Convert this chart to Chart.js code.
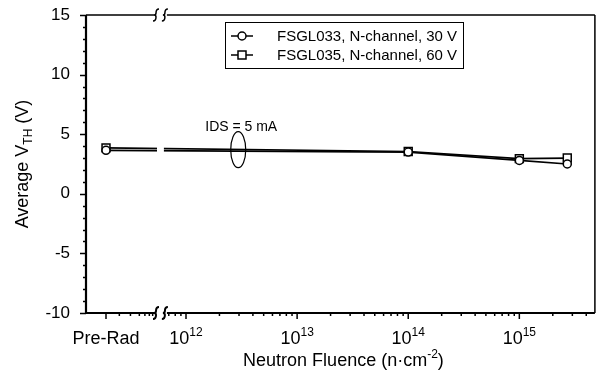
<!DOCTYPE html>
<html>
<head>
<meta charset="utf-8">
<script src="https://cdn.jsdelivr.net/npm/chart.js@4"></script>
<style>
  html, body { margin: 0; padding: 0; background: #fff; }
  #wrap { width: 602px; height: 380px; }
</style>
</head>
<body>
<div id="wrap"><canvas id="myChart"></canvas></div>
<script>
// neutron fluence of each measurement (null = pre-rad)
const fluence = [null, 1e14, 1e15, 2.7e15];
// average threshold voltage (V)
const vthFSGL033 = [3.65, 3.5, 2.8, 2.5];
const vthFSGL035 = [3.85, 3.55, 2.95, 3.0];
const seriesNames = ['FSGL033, N-channel, 30 V', 'FSGL035, N-channel, 60 V'];
// tick labels
const preRadLabel = 'Pre-Rad';
const xDecades = [12, 13, 14, 15];
const yMin = -10, yMax = 15, yStep = 5;
const noteText = 'IDS = 5 mA';

// x axis works in log10 units, pre-rad sits left of the axis break
const PRE_RAD_X = 11.28;
const X_MIN = 11.10, X_MAX = 15.68;
const BREAK_X = [11.73, 11.81];
const PRE_RAD_MINOR = [11.40, 11.50, 11.58, 11.63, 11.67, 11.70];
const FONT = "'Liberation Sans', Arial, Helvetica, sans-serif";

function toPoints(values) {
    return fluence.map((f, i) => ({ x: f === null ? PRE_RAD_X : Math.log10(f), y: values[i] }));
}

// draw one axis break squiggle
function squiggle(ctx, x, y) {
    ctx.beginPath();
    ctx.moveTo(x + 3, y - 6);
    ctx.quadraticCurveTo(x, y - 6, x, y - 2);
    ctx.quadraticCurveTo(x, y, x - 2, y);
    ctx.quadraticCurveTo(x, y, x, y + 2);
    ctx.quadraticCurveTo(x, y + 6, x - 3, y + 6);
    ctx.stroke();
}

function drawMarker(ctx, style, x, y) {
    ctx.beginPath();
    if (style === 'circle') ctx.arc(x, y, 4, 0, Math.PI * 2);
    else ctx.rect(x - 4, y - 4, 8, 8);
    ctx.fillStyle = '#fff';
    ctx.fill();
    ctx.stroke();
}

// frame, breaks, ticks, labels, legend and note
const decorPlugin = {
    id: 'decor',
    afterDatasetsDraw(chart) {
        const { ctx, chartArea: a, scales } = chart;
        const xs = scales.x, ys = scales.y;
        const b0 = xs.getPixelForValue(BREAK_X[0]);
        const b1 = xs.getPixelForValue(BREAK_X[1]);
        ctx.save();
        // cut the data lines at the break
        ctx.fillStyle = '#fff';
        ctx.fillRect(b0 + 1, a.top + 2, b1 - b0 - 2, a.bottom - a.top - 4);

        ctx.strokeStyle = '#000';
        ctx.lineCap = 'butt';
        // left and bottom axis
        ctx.lineWidth = 2.2;
        ctx.beginPath();
        ctx.moveTo(a.left, a.top); ctx.lineTo(a.left, a.bottom + 1);
        ctx.moveTo(a.left - 1, a.bottom); ctx.lineTo(b0 - 2, a.bottom);
        ctx.moveTo(b1 + 2, a.bottom); ctx.lineTo(a.right, a.bottom);
        ctx.stroke();
        // top and right frame
        ctx.lineWidth = 1.5;
        ctx.beginPath();
        ctx.moveTo(a.left, a.top); ctx.lineTo(b0 - 2, a.top);
        ctx.moveTo(b1 + 2, a.top); ctx.lineTo(a.right, a.top);
        ctx.moveTo(a.right, a.top); ctx.lineTo(a.right, a.bottom);
        ctx.stroke();
        // break squiggles
        squiggle(ctx, b0, a.top);
        squiggle(ctx, b1, a.top);
        ctx.lineWidth = 2;
        squiggle(ctx, b0, a.bottom);
        squiggle(ctx, b1, a.bottom);

        // y ticks
        ctx.lineWidth = 1.5;
        ctx.beginPath();
        for (let v = yMin; v <= yMax; v++) {
            const py = Math.round(ys.getPixelForValue(v)) + 0.5;
            const len = v % yStep === 0 ? 6 : 3;
            ctx.moveTo(a.left - len, py); ctx.lineTo(a.left, py);
        }
        // x ticks
        const majors = [PRE_RAD_X].concat(xDecades);
        majors.forEach(v => {
            const px = xs.getPixelForValue(v);
            ctx.moveTo(px, a.bottom); ctx.lineTo(px, a.bottom + 6);
        });
        let minors = PRE_RAD_MINOR.slice();
        for (let n = 11; n <= 15; n++) {
            for (let k = 2; k <= 9; k++) {
                const v = n + Math.log10(k);
                if (v > BREAK_X[1] + 0.02 && v < X_MAX) minors.push(v);
            }
        }
        minors.forEach(v => {
            const px = xs.getPixelForValue(v);
            ctx.moveTo(px, a.bottom); ctx.lineTo(px, a.bottom + 3);
        });
        ctx.stroke();

        // x tick labels
        ctx.fillStyle = '#000';
        ctx.textBaseline = 'alphabetic';
        ctx.textAlign = 'left';
        const base = a.bottom + 31;
        ctx.font = '18px ' + FONT;
        let w = ctx.measureText(preRadLabel).width;
        ctx.fillText(preRadLabel, xs.getPixelForValue(PRE_RAD_X) - w / 2, base);
        xDecades.forEach(n => {
            ctx.font = '18px ' + FONT;
            const w1 = ctx.measureText('10').width;
            ctx.font = '12px ' + FONT;
            const w2 = ctx.measureText(String(n)).width;
            const x0 = xs.getPixelForValue(n) - (w1 + w2) / 2;
            ctx.font = '18px ' + FONT;
            ctx.fillText('10', x0, base);
            ctx.font = '12px ' + FONT;
            ctx.fillText(String(n), x0 + w1, base - 8);
        });

        // x axis title
        const t1 = 'Neutron Fluence (n\u00b7cm', t2 = '-2', t3 = ')';
        ctx.font = '18px ' + FONT;
        const wa = ctx.measureText(t1).width, wc = ctx.measureText(t3).width;
        ctx.font = '12px ' + FONT;
        const wb = ctx.measureText(t2).width;
        let tx = (a.left + a.right) / 2 + 3 - (wa + wb + wc) / 2;
        const ty = a.bottom + 53;
        ctx.font = '18px ' + FONT;
        ctx.fillText(t1, tx, ty);
        ctx.font = '12px ' + FONT;
        ctx.fillText(t2, tx + wa, ty - 8);
        ctx.font = '18px ' + FONT;
        ctx.fillText(t3, tx + wa + wb, ty);

        // y axis title, rotated
        ctx.save();
        ctx.translate(28, (a.top + a.bottom) / 2);
        ctx.rotate(-Math.PI / 2);
        const s1 = 'Average V', s2 = 'TH', s3 = ' (V)';
        ctx.font = '18px ' + FONT;
        const u1 = ctx.measureText(s1).width, u3 = ctx.measureText(s3).width;
        ctx.font = '12px ' + FONT;
        const u2 = ctx.measureText(s2).width;
        let sx = -(u1 + u2 + u3) / 2;
        ctx.font = '18px ' + FONT;
        ctx.fillText(s1, sx, 0);
        ctx.font = '12px ' + FONT;
        ctx.fillText(s2, sx + u1, 4);
        ctx.font = '18px ' + FONT;
        ctx.fillText(s3, sx + u1 + u2, 0);
        ctx.restore();

        // note with ellipse
        const ex = xs.getPixelForValue(12.47), ey = ys.getPixelForValue(3.7);
        ctx.lineWidth = 1.2;
        ctx.beginPath();
        ctx.ellipse(ex, ey, 7.5, 18, 0, 0, Math.PI * 2);
        ctx.stroke();
        ctx.font = '14px ' + FONT;
        ctx.textAlign = 'center';
        ctx.fillText(noteText, ex + 3, ey - 19);

        // legend box
        ctx.lineWidth = 1;
        ctx.strokeRect(225.5, 22.5, 238, 46);
        ctx.textAlign = 'left';
        ctx.textBaseline = 'middle';
        ['circle', 'rect'].forEach((style, i) => {
            const ly = 36 + i * 19;
            ctx.lineWidth = 1.5;
            ctx.beginPath();
            ctx.moveTo(231, ly); ctx.lineTo(253, ly);
            ctx.stroke();
            drawMarker(ctx, style, 242, ly);
            ctx.fillStyle = '#000';
            ctx.font = '15px ' + FONT;
            ctx.fillText(seriesNames[i], 277, ly + 1);
        });
        ctx.restore();
    }
};

const ctx = document.getElementById('myChart').getContext('2d');
new Chart(ctx, {
    type: 'line',
    data: {
        datasets: [{
            label: seriesNames[0],
            data: toPoints(vthFSGL033),
            borderColor: '#000',
            borderWidth: 1.7,
            pointStyle: 'circle',
            pointRadius: 4,
            pointBorderWidth: 1.5,
            pointBackgroundColor: '#fff',
            pointBorderColor: '#000',
            tension: 0
        }, {
            label: seriesNames[1],
            data: toPoints(vthFSGL035),
            borderColor: '#000',
            borderWidth: 1.7,
            pointStyle: 'rect',
            pointRadius: 5.6,
            pointBorderWidth: 1.5,
            pointBackgroundColor: '#fff',
            pointBorderColor: '#000',
            tension: 0
        }]
    },
    options: {
        responsive: true,
        maintainAspectRatio: false,
        animation: false,
        devicePixelRatio: 1,
        layout: { padding: { top: 15, right: 3, left: 0, bottom: 0 } },
        plugins: {
            legend: { display: false },
            tooltip: { enabled: false }
        },
        scales: {
            x: {
                type: 'linear',
                min: X_MIN,
                max: X_MAX,
                grid: { display: false },
                border: { display: false },
                ticks: { display: false },
                afterFit: s => { s.height = 67; s.paddingLeft = 0; s.paddingRight = 0; }
            },
            y: {
                min: yMin,
                max: yMax,
                grid: { display: false },
                border: { display: false },
                ticks: {
                    stepSize: yStep,
                    color: '#000',
                    padding: 8,
                    font: { family: FONT, size: 17 }
                },
                afterFit: s => { s.width = 86; s.paddingTop = 0; s.paddingBottom = 0; }
            }
        }
    },
    plugins: [decorPlugin]
});
</script>
</body>
</html>
